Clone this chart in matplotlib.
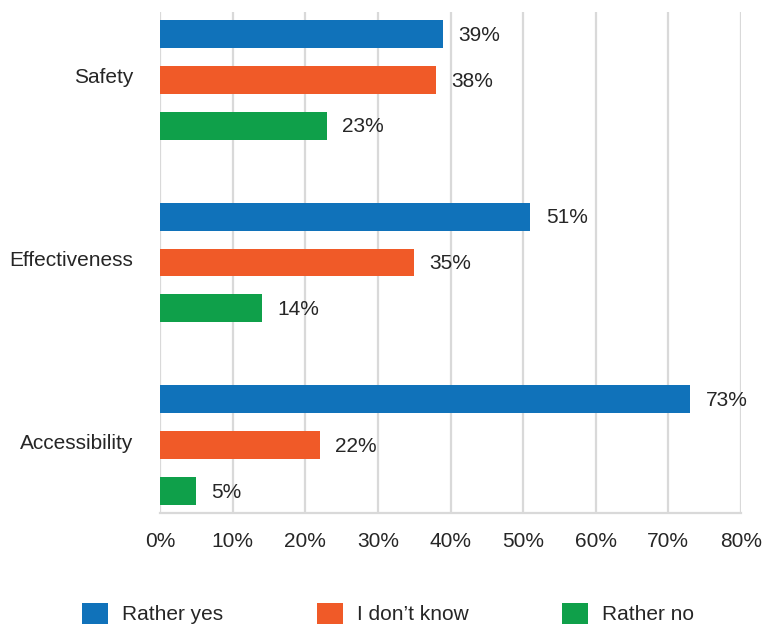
import matplotlib.pyplot as plt
import numpy as np

# data
categories = ["Safety", "Effectiveness", "Accessibility"]
series = ["Rather yes", "I don\u2019t know", "Rather no"]
rather_yes = [39, 51, 73]
dont_know = [38, 35, 22]
rather_no = [23, 14, 5]
ticks = [0, 10, 20, 30, 40, 50, 60, 70, 80]

cols = ["#1072BA", "#F05A28", "#0FA04A"]
txt_col = "#262626"
grid_col = "#D9D9D9"

plt.rcParams['font.family'] = ['Liberation Sans', 'DejaVu Sans']
plt.rcParams['font.size'] = 15

fig = plt.figure(figsize=(7.69, 6.25), dpi=100)
ax = fig.add_axes([160/769, 1 - 513/625, 581/769, 501/625])

y = np.arange(len(categories))
step = 0.251
h = 0.153
vals = [rather_yes, dont_know, rather_no]
for i, (s, v) in enumerate(zip(series, vals)):
    pos = y + (i - 1) * step
    ax.barh(pos, v, height=h, color=cols[i], label=s, zorder=3)
    for p, val in zip(pos, v):
        ax.annotate(f"{val}%", (val, p), xytext=(11, -1), textcoords="offset points",
                    ha="left", va="center", color=txt_col, fontsize=15)

ax.set_xlim(0, 80)
ax.set_ylim(2.37, -0.37)
ax.set_xticks(ticks)
ax.set_xticklabels([f"{t}%" for t in ticks], color=txt_col)
ax.set_yticks(y - 0.02)
ax.set_yticklabels(categories, color=txt_col)
ax.tick_params(axis='x', length=0, pad=14)
ax.tick_params(axis='y', length=0, pad=19)
ax.grid(axis='x', color=grid_col, linewidth=1.6, zorder=0)
for sp in ["top", "right", "left"]:
    ax.spines[sp].set_visible(False)
ax.spines["bottom"].set_color(grid_col)
ax.spines["bottom"].set_linewidth(1.6)

leg = fig.legend(loc="center", bbox_to_anchor=(0.5045, 0.018), ncol=3, frameon=False,
                 handlelength=1.25, handleheight=1.15, handletextpad=0.67,
                 columnspacing=4.5, fontsize=15)
for t in leg.get_texts():
    t.set_color(txt_col)

fig.savefig("out.png", dpi=100)
